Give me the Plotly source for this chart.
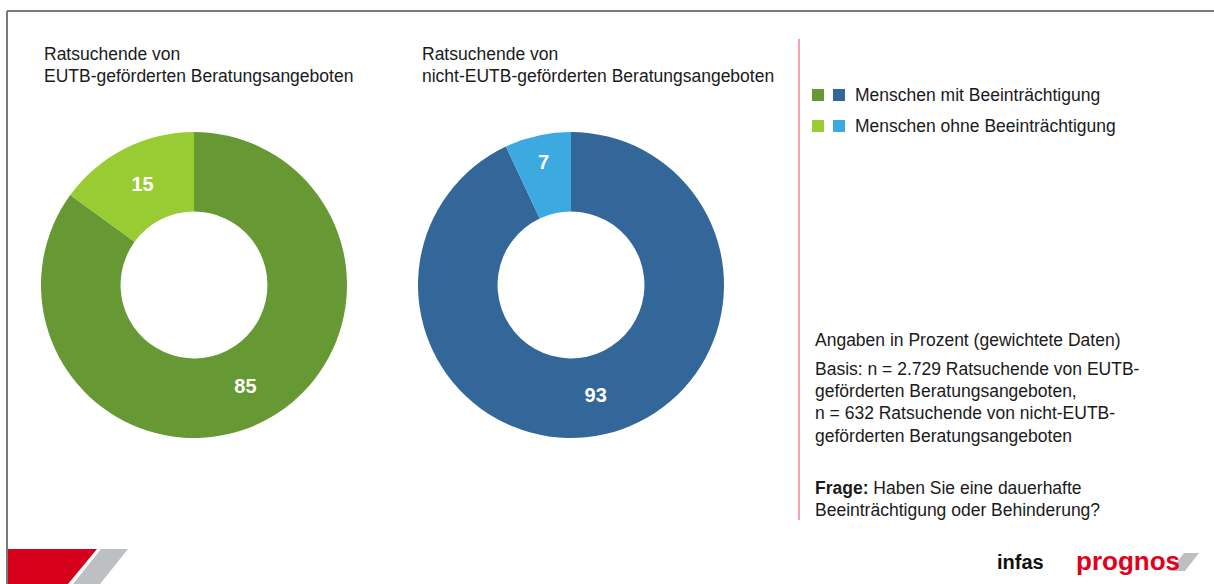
import plotly.graph_objects as go

W, H = 1214, 584

# ---- data ----
categories = ["Menschen mit Beeinträchtigung", "Menschen ohne Beeinträchtigung"]
eutb_values = [85, 15]
non_eutb_values = [93, 7]
eutb_colors = ["#669933", "#99CC33"]
non_eutb_colors = ["#336699", "#3DA9E1"]
chart_titles = [
    ["Ratsuchende von", "EUTB-geförderten Beratungsangeboten"],
    ["Ratsuchende von", "nicht-EUTB-geförderten Beratungsangeboten"],
]
note_lines = [
    "Angaben in Prozent (gewichtete Daten)",
    "Basis: n = 2.729 Ratsuchende von EUTB-",
    "geförderten Beratungsangeboten,",
    "n = 632 Ratsuchende von nicht-EUTB-",
    "geförderten Beratungsangeboten",
    "<b>Frage:</b> Haben Sie eine dauerhafte",
    "Beeinträchtigung oder Behinderung?",
]


def px(x):
    return x / W


def py(y):
    return 1 - y / H


FONT = "Liberation Sans, Arial, sans-serif"
TXT = "#1a1a1a"

fig = go.Figure()

for vals, cols, (x0, x1) in [
    (eutb_values, eutb_colors, (41, 347)),
    (non_eutb_values, non_eutb_colors, (418, 724)),
]:
    fig.add_trace(go.Pie(
        labels=categories,
        values=vals,
        marker=dict(colors=cols, line=dict(width=0)),
        hole=0.48,
        sort=False,
        direction="clockwise",
        rotation=0,
        textinfo="value",
        textposition="inside",
        insidetextorientation="horizontal",
        textfont=dict(color="white", size=20, family=FONT, weight="bold"),
        domain=dict(x=[px(x0), px(x1)], y=[py(438), py(132)]),
        showlegend=False,
        hoverinfo="label+value",
    ))

annotations = []
# chart titles
for (l1, l2), x in zip(chart_titles, [42, 420]):
    for txt, y in [(l1, 54), (l2, 76)]:
        annotations.append(dict(
            text=txt, x=px(x), y=py(y), xref="paper", yref="paper",
            xanchor="left", yanchor="middle", showarrow=False,
            font=dict(family=FONT, size=17.5, color=TXT),
        ))

# legend
legend_rows = [95, 126]
for i, cat in enumerate(categories):
    y = legend_rows[i]
    annotations.append(dict(
        text=cat, x=px(853), y=py(y), xref="paper", yref="paper",
        xanchor="left", yanchor="middle", showarrow=False,
        font=dict(family=FONT, size=17.5, color=TXT),
    ))

# note lines
note_y = [340, 369, 391, 413, 436, 488, 510]
for txt, y in zip(note_lines, note_y):
    annotations.append(dict(
        text=txt, x=px(813), y=py(y), xref="paper", yref="paper",
        xanchor="left", yanchor="middle", showarrow=False,
        font=dict(family=FONT, size=17.5, color=TXT),
    ))

# logos text
annotations.append(dict(
    text="<b>infas</b>", x=px(995), y=py(562), xref="paper", yref="paper",
    xanchor="left", yanchor="middle", showarrow=False,
    font=dict(family="Liberation Sans Narrow, Arial Narrow, sans-serif", size=20, color="#111111"),
))
annotations.append(dict(
    text="<b>prognos</b>", x=px(1074), y=py(561), xref="paper", yref="paper",
    xanchor="left", yanchor="middle", showarrow=False,
    font=dict(family=FONT, size=26, color="#E2001A"),
))

shapes = []
# legend squares
for i in range(2):
    y = legend_rows[i]
    for x0, col in [(812, eutb_colors[i]), (833, non_eutb_colors[i])]:
        shapes.append(dict(
            type="rect", xref="paper", yref="paper",
            x0=px(x0), x1=px(x0 + 12), y0=py(y + 6), y1=py(y - 6),
            fillcolor=col, line=dict(width=0),
        ))

# frame lines
shapes.append(dict(type="line", xref="paper", yref="paper",
                   x0=px(7), x1=px(1214), y0=py(11), y1=py(11),
                   line=dict(color="#7a7a7a", width=2)))
shapes.append(dict(type="line", xref="paper", yref="paper",
                   x0=px(7), x1=px(7), y0=py(11), y1=py(584),
                   line=dict(color="#7a7a7a", width=2)))
# pink divider
shapes.append(dict(type="line", xref="paper", yref="paper",
                   x0=px(799), x1=px(799), y0=py(39), y1=py(520),
                   line=dict(color="#F4A3AF", width=2)))


def poly(points, color):
    path = "M " + " L ".join(f"{px(x)},{py(y)}" for x, y in points) + " Z"
    return dict(type="path", xref="paper", yref="paper", path=path,
                fillcolor=color, line=dict(width=0))


# bottom-left logo bars
shapes.append(poly([(8, 549), (97, 549), (68, 584), (8, 584)], "#D6001C"))
shapes.append(poly([(101, 549), (128, 549), (100, 584), (73, 584)], "#BCC0C3"))
# prognos slash
shapes.append(poly([(1184, 553), (1199, 553), (1185, 571), (1170, 571)], "#BCC0C3"))

fig.update_layout(
    width=W, height=H,
    margin=dict(l=0, r=0, t=0, b=0),
    paper_bgcolor="white", plot_bgcolor="white",
    annotations=annotations,
    shapes=shapes,
    showlegend=False,
)

fig.write_html(
    "out.html",
    config={"displayModeBar": False},
    post_script="document.body.style.margin='0';document.body.style.padding='0';",
)
